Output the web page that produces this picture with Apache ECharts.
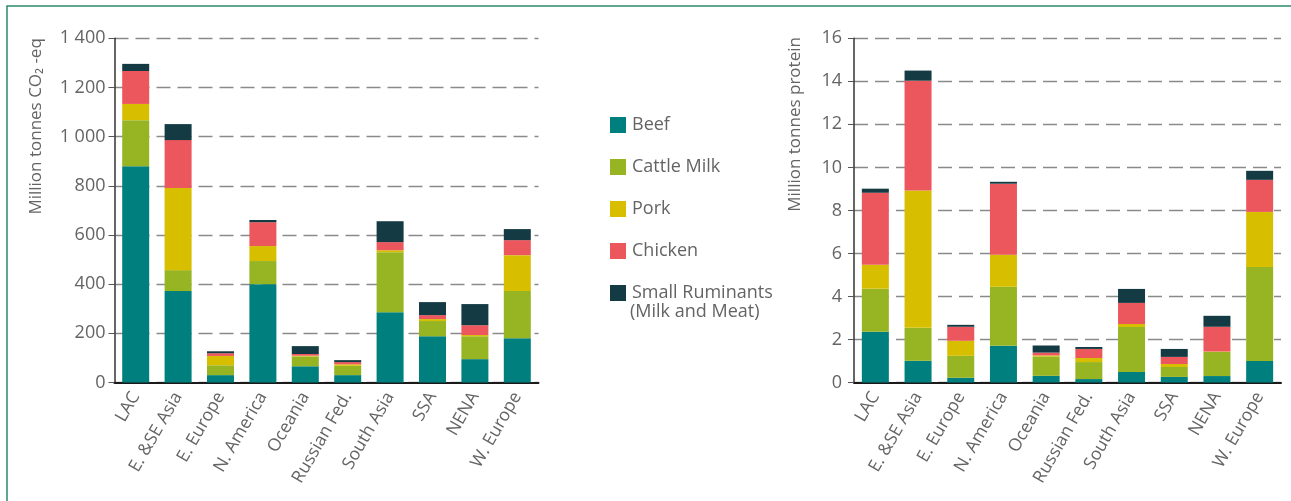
<!DOCTYPE html>
<html>
<head>
<meta charset="utf-8">
<script src="https://cdn.jsdelivr.net/npm/echarts@6/dist/echarts.min.js"></script>
<style>
html,body{margin:0;padding:0;background:#fff;}
#chart{width:1291px;height:501px;}
</style>
</head>
<body>
<div id="chart"></div>
<script>
var categories = ['LAC','E. &SE Asia','E. Europe','N. America','Oceania','Russian Fed.','South Asia','SSA','NENA','W. Europe'];
var seriesNames = ['Beef','Cattle Milk','Pork','Chicken','Small Ruminants (Milk and Meat)'];
var colors = ['#007f7f','#97b523','#d7bf00','#ec575d','#143b43'];

// Emissions, million tonnes CO2-eq
var beefCO2     = [880, 372, 30, 400, 66, 30, 286, 188, 95, 180];
var milkCO2     = [187, 85, 40, 94, 40, 38, 244, 62, 93, 192];
var porkCO2     = [66, 334, 38, 61, 3, 6, 8, 8, 5, 146];
var chickenCO2  = [134, 195, 11, 97, 7, 9, 33, 16, 40, 61];
var smallRumCO2 = [29, 65, 8, 9, 32, 8, 85, 53, 86, 45];

// Production, million tonnes protein
var beefP     = [2.36, 1.01, 0.22, 1.71, 0.31, 0.16, 0.49, 0.26, 0.30, 1.00];
var milkP     = [2.00, 1.53, 1.02, 2.74, 0.90, 0.79, 2.09, 0.46, 1.12, 4.37];
var porkP     = [1.11, 6.38, 0.70, 1.49, 0.05, 0.19, 0.14, 0.14, 0.02, 2.56];
var chickenP  = [3.35, 5.11, 0.65, 3.30, 0.13, 0.42, 0.98, 0.33, 1.15, 1.49];
var smallRumP = [0.19, 0.47, 0.09, 0.09, 0.33, 0.09, 0.65, 0.37, 0.51, 0.42];

var leftTicks = {min: 0, max: 1400, interval: 200};
var rightTicks = {min: 0, max: 16, interval: 2};

var co2Data = [beefCO2, milkCO2, porkCO2, chickenCO2, smallRumCO2];
var protData = [beefP, milkP, porkP, chickenP, smallRumP];

var textColor = '#646464';
var font = "'Open Sans', 'Noto Sans', sans-serif";

function makeX(gridIndex){
  return {
    type: 'category', gridIndex: gridIndex, data: categories,
    axisLine: {lineStyle: {color: '#1a1a1a', width: 2}},
    axisTick: {show: false},
    axisLabel: {rotate: 60, color: textColor, fontSize: 17.5, fontFamily: font, margin: 11, interval: 0}
  };
}
function makeY(gridIndex, t, name, pad, gap, fmt, lblMargin){
  return {
    type: 'value', gridIndex: gridIndex, min: t.min, max: t.max, interval: t.interval,
    name: name, nameLocation: 'middle', nameGap: gap,
    nameTextStyle: {color: textColor, fontSize: 17, fontFamily: font, padding: [0, 0, 0, pad]},
    axisLine: {show: true, lineStyle: {color: '#333', width: 1.5}},
    axisTick: {show: true, length: 6, lineStyle: {color: '#555', width: 1}},
    axisLabel: {color: textColor, fontSize: 18, fontFamily: font, margin: lblMargin, formatter: fmt},
    splitLine: {show: true, lineStyle: {color: '#8a8a8a', width: 1.3, type: [14, 7]}}
  };
}

var series = [];
seriesNames.forEach(function(n, i){
  series.push({name: n, type: 'bar', stack: 'co2', xAxisIndex: 0, yAxisIndex: 0,
    data: co2Data[i], barWidth: 27, itemStyle: {color: colors[i]}});
});
seriesNames.forEach(function(n, i){
  series.push({name: n, type: 'bar', stack: 'prot', xAxisIndex: 1, yAxisIndex: 1,
    data: protData[i], barWidth: 27, itemStyle: {color: colors[i]}});
});

var chart = echarts.init(document.getElementById('chart'));
chart.setOption({
  animation: false,
  backgroundColor: '#fff',
  textStyle: {fontFamily: font},
  grid: [
    {left: 114.5, top: 38.3, width: 424, height: 344.2},
    {left: 854, top: 38.3, width: 427, height: 344.2}
  ],
  legend: {
    data: seriesNames,
    orient: 'vertical', left: 605, top: 111,
    itemWidth: 16, itemHeight: 16, itemGap: 24, icon: 'rect',
    textStyle: {color: textColor, fontSize: 18, fontFamily: font, lineHeight: 18, padding: [0, 0, 0, 1]},
    formatter: function(n){ return n === 'Small Ruminants (Milk and Meat)' ? 'Small Ruminants' : n; }
  },
  graphic: [
    {type: 'rect', shape: {x: 7, y: 6, width: 1400, height: 700}, style: {fill: 'none', stroke: '#2b8a6b', lineWidth: 1.5}, silent: true},
    {type: 'text', left: 630, top: 303, style: {text: '(Milk and Meat)', fill: textColor, font: "18px 'Open Sans', 'Noto Sans', sans-serif"}}
  ],
  xAxis: [makeX(0), makeX(1)],
  yAxis: [
    makeY(0, leftTicks, 'Million tonnes CO\u2082 -eq', 168, 70, function(v){ return String(v).replace(/\B(?=(\d{3})+(?!\d))/g, ' '); }, 9),
    makeY(1, rightTicks, 'Million tonnes protein', 172, 50, null, 12)
  ],
  series: series
});
</script>
</body>
</html>
